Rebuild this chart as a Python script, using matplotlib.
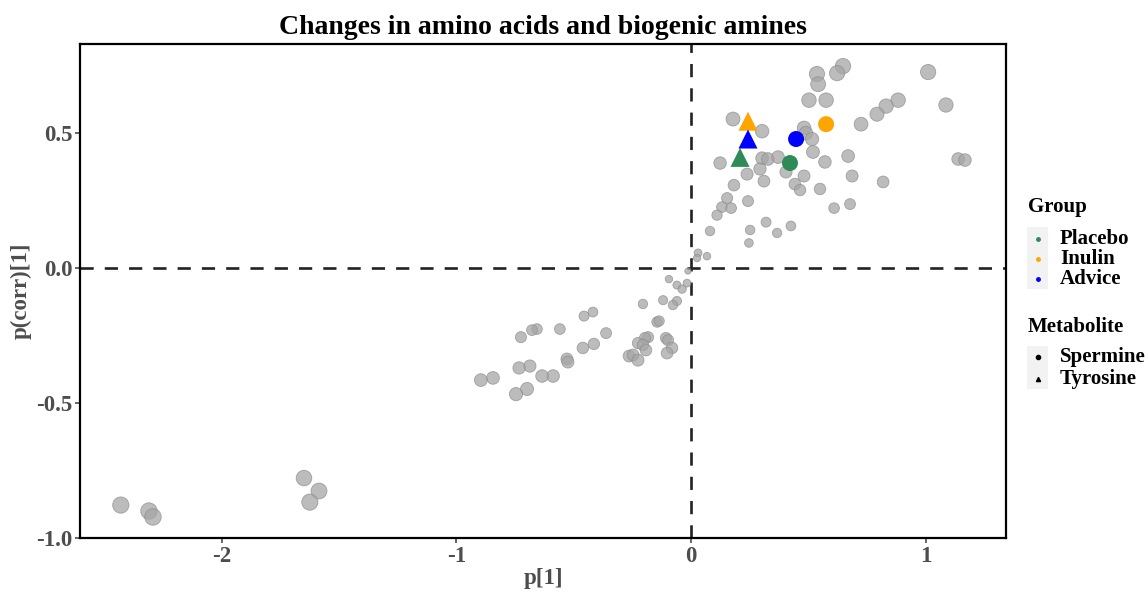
import numpy as np
import matplotlib
matplotlib.use("Agg")
import matplotlib.pyplot as plt
from matplotlib.patches import Rectangle
from matplotlib.lines import Line2D

plt.rcParams['font.family'] = ['Liberation Serif', 'DejaVu Serif']
plt.rcParams['font.weight'] = 'bold'

# all metabolites (background points)
p1 = [0.648, 0.623, 0.537, 0.542, 1.011, 0.503, 0.576, 0.883, 0.832, 0.793,
      1.087, 0.725, 0.179, 0.303, 0.482, 0.490, 0.516, 0.520, 0.124, 0.303,
      0.328, 0.371, 0.571, 0.670, 1.139, 1.168, 0.239, 0.294, 0.405, 0.482,
      0.687, 0.183, 0.311, 0.443, 0.465, 0.550, 0.819, 0.154, 0.132, 0.171,
      0.243, 0.111, 0.610, 0.678, 0.081, 0.252, 0.320, 0.367, 0.426, 0.247,
      0.030, 0.026, 0.068,
      -0.013, -0.094, -0.060, -0.038, -0.017, -0.205, -0.119, -0.060, -0.077, -0.145,
      -0.136, -0.183, -0.196, -0.226, -0.205, -0.264, -0.247, -0.192, -0.226, -0.107,
      -0.098, -0.081, -0.102, -0.362, -0.414, -0.461, -0.456, -0.418, -0.559, -0.657,
      -0.678, -0.725, -0.529, -0.525, -0.588, -0.635, -0.687, -0.733, -0.844, -0.896,
      -0.699, -0.746,
      -2.431, -2.311, -2.294, -1.650, -1.586, -1.625]
pcorr1 = [0.748, 0.722, 0.719, 0.681, 0.726, 0.622, 0.622, 0.622, 0.600, 0.570,
          0.604, 0.533, 0.552, 0.507, 0.519, 0.500, 0.478, 0.430, 0.389, 0.407,
          0.404, 0.411, 0.393, 0.415, 0.404, 0.400, 0.348, 0.367, 0.356, 0.341,
          0.341, 0.307, 0.322, 0.311, 0.289, 0.293, 0.319, 0.259, 0.226, 0.222,
          0.248, 0.196, 0.222, 0.237, 0.137, 0.141, 0.170, 0.130, 0.156, 0.093,
          0.056, 0.037, 0.044,
          -0.011, -0.041, -0.063, -0.078, -0.056, -0.133, -0.119, -0.122, -0.137, -0.200,
          -0.196, -0.256, -0.259, -0.278, -0.285, -0.326, -0.322, -0.304, -0.341, -0.259,
          -0.267, -0.296, -0.315, -0.241, -0.281, -0.296, -0.178, -0.163, -0.226, -0.226,
          -0.230, -0.256, -0.337, -0.348, -0.400, -0.400, -0.363, -0.370, -0.407, -0.415,
          -0.448, -0.467,
          -0.878, -0.900, -0.922, -0.778, -0.826, -0.867]

# highlighted metabolites per group
groups = ["Placebo", "Inulin", "Advice"]
group_colors = {"Placebo": "#2E8B57", "Inulin": "#FFA500", "Advice": "#0000FF"}
spermine_p1 = [0.422, 0.576, 0.448]
spermine_pcorr = [0.389, 0.533, 0.478]
tyrosine_p1 = [0.209, 0.243, 0.243]
tyrosine_pcorr = [0.410, 0.544, 0.478]

W, H = 1148, 594
fig = plt.figure(figsize=(W / 100, H / 100), dpi=100)
ax = fig.add_axes([80 / W, 1 - 538 / H, (1006 - 80) / W, (538 - 44) / H])

x = np.array(p1)
y = np.array(pcorr1)
r_px = 2.5 + 6 * np.sqrt(np.abs(y))
sizes = (2 * r_px * 0.72) ** 2
ax.scatter(x, y, s=sizes, color="#A6A6A6", alpha=0.75, edgecolors="#8C8C8C",
           linewidths=0.6, zorder=2)

ax.axhline(0, color="#222222", lw=1.9, dashes=(5, 4.2), zorder=1)
ax.axvline(0, color="#222222", lw=1.9, dashes=(5, 4.2), zorder=1)

for i, g in enumerate(groups):
    ax.scatter(spermine_p1[i], spermine_pcorr[i], s=(16 * 0.72) ** 2, marker="o",
               color=group_colors[g], edgecolors="none", zorder=3)
    ax.scatter(tyrosine_p1[i], tyrosine_pcorr[i], s=(19 * 0.72) ** 2, marker="^",
               color=group_colors[g], edgecolors="none", zorder=3)

ax.set_xlim(-2.605, 1.343)
ax.set_ylim(-1.0, 0.83)
ax.set_xticks([-2, -1, 0, 1])
ax.set_yticks([-1.0, -0.5, 0.0, 0.5])
ax.set_xticklabels(["-2", "-1", "0", "1"])
ax.set_yticklabels(["-1.0", "-0.5", "0.0", "0.5"])
ax.tick_params(labelsize=16.5, colors="#4D4D4D", length=3.5, width=1.2, pad=2)
for lab in ax.get_xticklabels() + ax.get_yticklabels():
    lab.set_fontweight("bold")
for sp in ax.spines.values():
    sp.set_linewidth(1.6)
    sp.set_color("black")

ax.set_xlabel("p[1]", fontsize=16.5, fontweight="bold", color="#4D4D4D", labelpad=1)
ax.set_ylabel("p(corr)[1]", fontsize=16.5, fontweight="bold", color="#4D4D4D", labelpad=3)
ax.set_title("Changes in amino acids and biogenic amines", fontsize=20,
             fontweight="bold", color="black", pad=7)

# legend drawn by hand (ggplot style with grey key boxes)
def fx(px):
    return px / W

def fy(py):
    return 1 - py / H

fig.text(fx(1028), fy(207), "Group", fontsize=15, fontweight="bold", va="center")
fig.add_artist(Rectangle((fx(1027), fy(289)), fx(21), (289 - 227) / H,
                         transform=fig.transFigure, color="#F2F2F2", lw=0))
for i, g in enumerate(groups):
    yy = 239 + 20 * i
    fig.add_artist(Line2D([fx(1037.5)], [fy(yy)], marker="o", ms=2.5, color=group_colors[g],
                          transform=fig.transFigure, linestyle="none"))
    fig.text(fx(1060), fy(yy), g, fontsize=15, fontweight="bold", va="center")

fig.text(fx(1028), fy(327), "Metabolite", fontsize=15, fontweight="bold", va="center")
fig.add_artist(Rectangle((fx(1027), fy(389)), fx(21), (389 - 346) / H,
                         transform=fig.transFigure, color="#F2F2F2", lw=0))
for i, (lab, mk) in enumerate([("Spermine", "o"), ("Tyrosine", "^")]):
    yy = 357 + 22 * i
    fig.add_artist(Line2D([fx(1037.5)], [fy(yy)], marker=mk, ms=3, color="black",
                          transform=fig.transFigure, linestyle="none"))
    fig.text(fx(1060), fy(yy), lab, fontsize=15, fontweight="bold", va="center")

fig.savefig("out.png", dpi=100)
